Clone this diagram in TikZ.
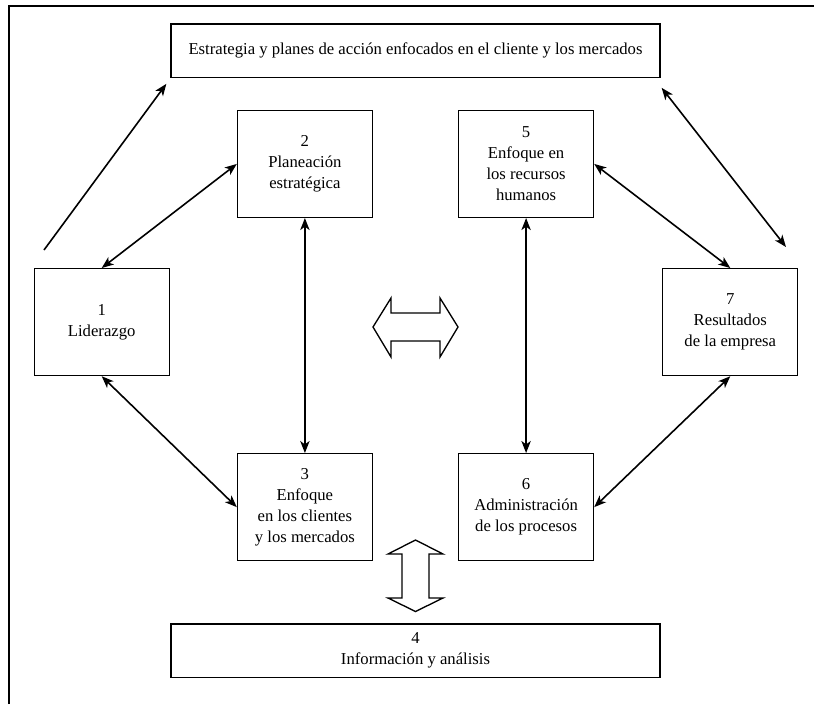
\documentclass[tikz,border=0pt]{standalone}
\usepackage{fontspec}
\setmainfont{Liberation Serif}
\usetikzlibrary{positioning}
\usetikzlibrary{arrows.meta}

\begin{document}
\begin{tikzpicture}[-,auto,node distance=1cm,
	>={Stealth[length=9pt,width=7pt,inset=2.5pt]},
	box node/.style={draw, line width=0.9pt, minimum width=101.25pt, minimum height=80.25pt, inner sep=2pt, align=center, font=\fontsize{12.5}{15.75}\selectfont},
	wide node/.style={draw, line width=1pt, minimum width=366.75pt, minimum height=40pt, inner sep=2pt, align=center, font=\fontsize{12.5}{15.5}\selectfont},
	link/.style={line width=1.2pt},
	hollow/.style={draw, line width=1pt, fill=white, line join=miter}]

	\useasboundingbox (0,0) rectangle (610.5pt,-528pt);
	\draw[line width=1.3pt](6.75pt,-528pt) -- (6.75pt,-4.5pt) -- (610.5pt,-4.5pt);

	\node[wide node](T) at (311.625pt,-37.875pt){Estrategia y planes de acción enfocados en el cliente y los mercados};
	\node[box node](B2)[below left = 24pt and 31.875pt of T.south]{2\\Planeación\\estratégica};
	\node[box node](B5)[right = 63.75pt of B2]{5\\Enfoque en\\los recursos\\humanos};
	\node[box node](B1)[below left = 37.5pt and 50.25pt of B2]{1\\Liderazgo};
	\node[box node](B7)[below right = 37.5pt and 51pt of B5]{7\\Resultados\\de la empresa};
	\node[box node](B3)[below = 176.25pt of B2]{3\\Enfoque\\en los clientes\\y los mercados};
	\node[box node](B6)[right = 63.75pt of B3]{6\\Administración\\de los procesos};
	\coordinate (mid) at (B3.south -| T.south);
	\node[wide node](B4)[below = 46.5pt of mid]{4\\Información y análisis};

	\coordinate (L0) at (33pt,-187.5pt);
	\coordinate (L1) at ([xshift=-3pt,yshift=-4.5pt]T.south west);
	\coordinate (R0) at ([xshift=0.75pt,yshift=-7.5pt]T.south east);
	\coordinate (R1) at (589.5pt,-185.25pt);

	\path[link]
	(B1.north) edge[<->] (B2.west)
	(B1.south) edge[<->] (B3.west)
	(B2) edge[<->] (B3)
	(B5) edge[<->] (B6)
	(B5.east) edge[<->] (B7.north)
	(B6.east) edge[<->] (B7.south)
	(L0) edge[->] (L1)
	(R0) edge[<->] (R1);

	% hollow double arrows
	\draw[hollow](279.75pt,-245.25pt) -- (293.25pt,-223.5pt) -- (293.25pt,-234.75pt) -- (330pt,-234.75pt)
		-- (330pt,-223.5pt) -- (343.5pt,-245.25pt) -- (330pt,-267.75pt) -- (330pt,-255.75pt)
		-- (293.25pt,-255.75pt) -- (293.25pt,-267.75pt) -- cycle;
	\draw[hollow](311.625pt,-405pt) -- (332.25pt,-415.5pt) -- (321.75pt,-415.5pt) -- (321.75pt,-448.5pt)
		-- (332.25pt,-448.5pt) -- (311.625pt,-458.625pt) -- (291pt,-448.5pt) -- (301.5pt,-448.5pt)
		-- (301.5pt,-415.5pt) -- (291pt,-415.5pt) -- cycle;
\end{tikzpicture}
\end{document}
